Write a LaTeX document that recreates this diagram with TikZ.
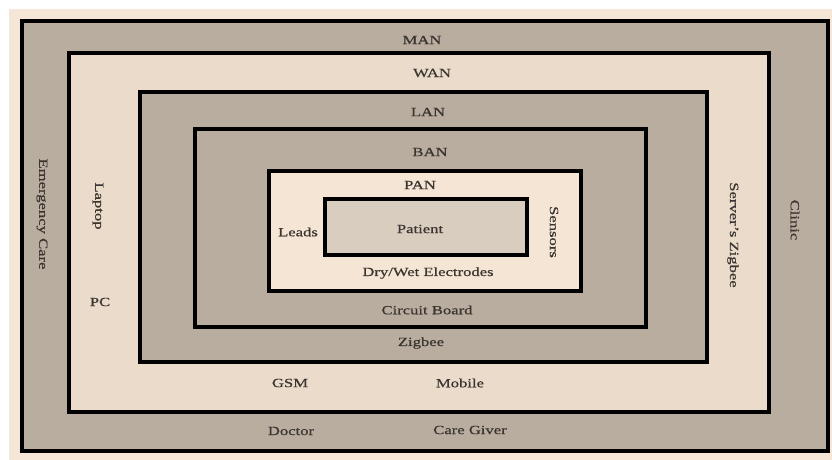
\documentclass[tikz,border=0pt]{standalone}
\usepackage{fontspec}
\setmainfont{Liberation Serif}[FakeStretch=1.33,FakeBold=0.6]
\begin{document}
\begin{tikzpicture}[x=1pt,y=-1pt]
\definecolor{bgcream}{HTML}{F5E6D7}
\definecolor{greyband}{HTML}{B9AD9F}
\definecolor{wanband}{HTML}{EBDBCB}
\definecolor{panfill}{HTML}{F4E5D4}
\definecolor{patfill}{HTML}{D9CDBF}
\definecolor{txt}{HTML}{3A3530}
\tikzset{
  layer/.style={draw=black,line width=4.5pt},
  lbl/.style={text=txt,font=\fontsize{12.5}{14}\selectfont,inner sep=0pt},
  vlbl/.style={lbl,rotate=-90}
}
\useasboundingbox (0,0) rectangle (832,460);
\fill[white] (0,0) rectangle (832,460);
\fill[bgcream] (9,9) rectangle (832,460);
\draw[layer,fill=greyband] (22,21) rectangle (828,451);
\draw[layer,fill=wanband] (69,53) rectangle (769,412);
\draw[layer,fill=greyband] (140,92) rectangle (707,362);
\draw[layer,fill=greyband] (195,129) rectangle (646,327);
\draw[layer,fill=panfill] (269,171) rectangle (581,291);
\draw[layer,fill=patfill] (325,199) rectangle (527,255);
% horizontal labels
\node[lbl] (man) at (422,40) {MAN};
\node[lbl] (wan) at (432,73) {WAN};
\node[lbl] (lan) at (428,112) {LAN};
\node[lbl] (ban) at (430,152) {BAN};
\node[lbl] (pan) at (420,185) {PAN};
\node[lbl] (patient) at (420,229) {Patient};
\node[lbl] (leads) at (298,232) {Leads};
\node[lbl] (elec) at (428,273) {Dry/Wet Electrodes};
\node[lbl] (circ) at (427,310) {Circuit Board};
\node[lbl] (zig) at (421,343) {Zigbee};
\node[lbl] (gsm) at (290,383) {GSM};
\node[lbl] (mob) at (460,383) {Mobile};
\node[lbl] (doc) at (291,431) {Doctor};
\node[lbl] (care) at (470,430) {Care Giver};
\node[lbl] (pc) at (100,302) {PC};
% vertical labels
\node[vlbl] (emerg) at (42,214) {Emergency Care};
\node[vlbl] (laptop) at (98,206) {Laptop};
\node[vlbl] (server) at (733,235) {Server's Zigbee};
\node[vlbl] (clinic) at (795,220) {Clinic};
\node[vlbl] (sensors) at (554,232) {Sensors};
\end{tikzpicture}
\end{document}
